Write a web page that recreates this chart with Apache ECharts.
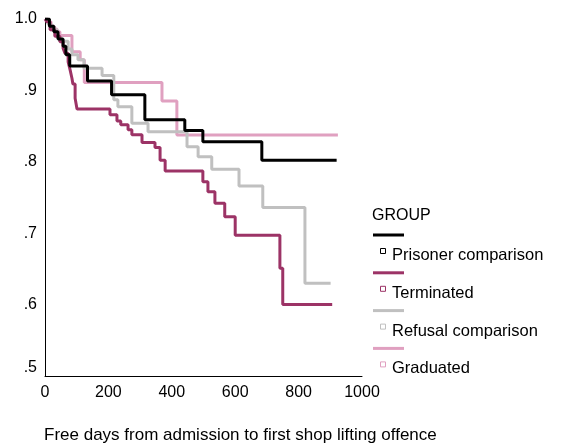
<!DOCTYPE html>
<html>
<head>
<meta charset="utf-8">
<script src="https://cdn.jsdelivr.net/npm/echarts@6/dist/echarts.min.js"></script>
<style>
  html, body { margin: 0; padding: 0; background: #fff; }
  #chart { width: 562px; height: 447px; }
</style>
</head>
<body>
<div id="chart"></div>
<script>
// Kaplan-Meier survival estimates: [free days, cumulative proportion without offence]
const prisonerComparison = [
  [0, 1.0], [14, 0.99], [28, 0.982], [41, 0.972], [57, 0.962], [66, 0.95],
  [78, 0.934], [134, 0.913], [210, 0.894], [315, 0.859], [441, 0.844],
  [498, 0.828], [684, 0.802], [920, 0.802]
];
const terminated = [
  [0, 1.0], [6, 0.996], [16, 0.985], [31, 0.976], [47, 0.968], [57, 0.959],
  [63, 0.952], [73, 0.94], [79, 0.929], [85, 0.917], [88, 0.909], [95, 0.889],
  [101, 0.874], [205, 0.866], [227, 0.857], [239, 0.852], [262, 0.845],
  [274, 0.838], [306, 0.827], [347, 0.82], [363, 0.802], [379, 0.787],
  [498, 0.772], [514, 0.758], [536, 0.742], [567, 0.723], [600, 0.697],
  [741, 0.651], [750, 0.6], [906, 0.6]
];
const refusalComparison = [
  [0, 1.0], [9, 0.993], [20, 0.985], [38, 0.975], [47, 0.969], [73, 0.958],
  [85, 0.95], [104, 0.943], [123, 0.931], [180, 0.921], [217, 0.887],
  [230, 0.877], [274, 0.854], [325, 0.842], [448, 0.821], [483, 0.807],
  [526, 0.7895], [612, 0.766], [687, 0.736], [820, 0.63], [901, 0.63]
];
const graduated = [
  [0, 1.0], [9, 0.996], [19, 0.99], [29, 0.986], [38, 0.982], [47, 0.977],
  [85, 0.954], [111, 0.943], [124, 0.911], [369, 0.885], [416, 0.8375],
  [924, 0.8375]
];

const groupNames = ['Prisoner comparison', 'Terminated', 'Refusal comparison', 'Graduated'];
const groupColors = ['#000000', '#9c3366', '#c0c0c0', '#e0a0c0'];
const groupData = [prisonerComparison, terminated, refusalComparison, graduated];

const xTicks = [0, 200, 400, 600, 800, 1000];
const yTicks = [0.5, 0.6, 0.7, 0.8, 0.9, 1.0];

const FONT = 'Arial, "Liberation Sans", sans-serif';

const chart = echarts.init(document.getElementById('chart'), null, { renderer: 'canvas' });

// legend block drawn beside the plot
const legendX = 373;
const legendItems = [];
legendItems.push({
  type: 'text', left: 372, top: 208,
  style: { text: 'GROUP', font: '16px ' + FONT, fill: '#000' }
});
groupNames.forEach((name, i) => {
  const y0 = 235 + i * 37.8;
  legendItems.push({
    type: 'line',
    shape: { x1: legendX, y1: y0, x2: legendX + 31, y2: y0 },
    style: { stroke: groupColors[i], lineWidth: 3 }
  });
  legendItems.push({
    type: 'rect',
    shape: { x: 380.5, y: y0 + 13.5, width: 5, height: 5 },
    style: { fill: '#fff', stroke: groupColors[i], lineWidth: 1 }
  });
  legendItems.push({
    type: 'text', left: 392, top: y0 + 12,
    style: { text: name, font: '16.5px ' + FONT, fill: '#000' }
  });
});
legendItems.push({
  type: 'text', left: 44, top: 427,
  style: { text: 'Free days from admission to first shop lifting offence', font: '17px ' + FONT, fill: '#000' }
});

chart.setOption({
  animation: false,
  backgroundColor: '#fff',
  grid: { left: 45, top: 19, right: 200, bottom: 71, containLabel: false },
  xAxis: {
    type: 'value', min: xTicks[0], max: xTicks[xTicks.length - 1], interval: 200,
    axisLine: { lineStyle: { color: '#000', width: 1 } },
    axisTick: { show: false },
    splitLine: { show: false },
    axisLabel: { color: '#000', fontSize: 16, fontFamily: FONT, margin: 9, formatter: v => String(v) }
  },
  yAxis: {
    type: 'value', min: yTicks[0], max: yTicks[yTicks.length - 1], interval: 0.1,
    axisLine: { show: true, lineStyle: { color: '#000', width: 1 } },
    axisTick: { show: false },
    splitLine: { show: false },
    axisLabel: {
      color: '#000', fontSize: 16, fontFamily: FONT, margin: 8,
      formatter: v => {
        const s = Math.abs(v - 1) < 1e-9 ? '1.0' : '.' + Math.round(v * 10);
        return Math.abs(v - 0.5) < 1e-9 ? '{low|' + s + '}' : s;
      },
      rich: { low: { fontSize: 16, fontFamily: FONT, color: '#000', padding: [0, 0, 16, 0] } }
    }
  },
  series: groupData.map((d, i) => ({
    name: groupNames[i],
    type: 'line',
    step: 'end',
    data: d,
    showSymbol: false,
    lineStyle: { color: groupColors[i], width: 3 },
    itemStyle: { color: groupColors[i] },
    z: 10 - i
  })),
  graphic: legendItems
});
</script>
</body>
</html>
